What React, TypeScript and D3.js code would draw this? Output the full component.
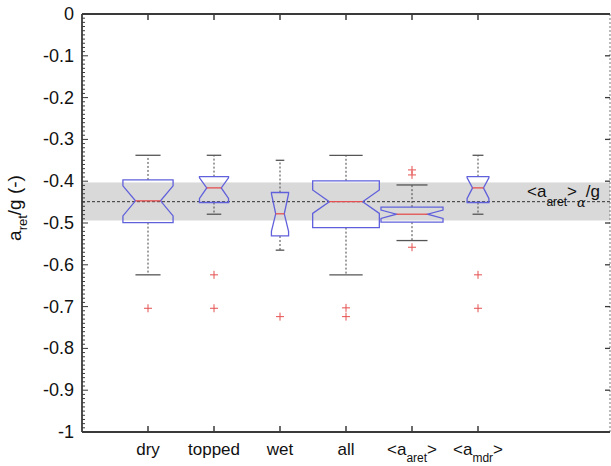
import React from "react";
import * as d3 from "d3";

const categories = ["dry", "topped", "wet", "all", "<a_aret>", "<a_mdr>"];
const whiskerHigh = [-0.338, -0.338, -0.35, -0.338, -0.409, -0.338];
const q3 = [-0.397, -0.389, -0.427, -0.399, -0.462, -0.389];
const notchHigh = [-0.411, -0.392, -0.43, -0.421, -0.469, -0.392];
const medians = [-0.447, -0.416, -0.478, -0.449, -0.479, -0.416];
const notchLow = [-0.483, -0.441, -0.52, -0.477, -0.489, -0.441];
const q1 = [-0.499, -0.451, -0.531, -0.511, -0.498, -0.451];
const whiskerLow = [-0.624, -0.479, -0.565, -0.624, -0.542, -0.479];
const outliers = [
  [-0.704],
  [-0.624, -0.704],
  [-0.724],
  [-0.703, -0.724],
  [-0.373, -0.385, -0.558],
  [-0.624, -0.704],
];
const boxWidths = [0.76, 0.44, 0.26, 1.01, 0.94, 0.33];
const bandLow = -0.494;
const bandHigh = -0.403;
const meanValue = -0.449;
const yTicks = [0, -0.1, -0.2, -0.3, -0.4, -0.5, -0.6, -0.7, -0.8, -0.9, -1];
const yTickLabels = ["0", "-0.1", "-0.2", "-0.3", "-0.4", "-0.5", "-0.6", "-0.7", "-0.8", "-0.9", "-1"];

const W = 611;
const H = 466;
const left = 82;
const right = 610;
const top = 14;
const bottom = 432;

const FONT = "'Liberation Sans', Arial, Helvetica, sans-serif";
const BLUE = "#6060dc";
const RED = "#e65050";
const AX = "#3a3a3a";

function Label({ name }: { name: string }) {
  const m = name.match(/^<a_(\w+)>$/);
  if (m) {
    return (
      <>
        <tspan>{"<a"}</tspan>
        <tspan fontSize={12} dy={7}>{m[1]}</tspan>
        <tspan dy={-7}>{">"}</tspan>
      </>
    );
  }
  return <tspan>{name}</tspan>;
}

export default function App() {
  const x = d3.scaleLinear().domain([0, 8]).range([left, right]);
  const y = d3.scaleLinear().domain([-1, 0]).range([bottom, top]);
  const unit = x(1) - x(0);
  const minor = d3.range(0, 101).map((i) => -i / 100);

  return (
    <svg
      width={W}
      height={H}
      style={{ position: "absolute", left: 0, top: 0, background: "#fff" }}
      fontFamily={FONT}
    >
      {/* band */}
      <rect
        x={left}
        y={y(bandHigh)}
        width={right - left}
        height={y(bandLow) - y(bandHigh)}
        fill="#d9d9d9"
      />
      <line
        x1={left}
        x2={right}
        y1={y(meanValue)}
        y2={y(meanValue)}
        stroke="#333"
        strokeWidth={1}
        strokeDasharray="3,2"
      />
      <text x={527} y={197} fontSize={17} fill="#111">
        <tspan>{"<a"}</tspan>
        <tspan fontSize={12} dy={9}>aret</tspan>
        <tspan dy={-9}>{">"}</tspan>
        <tspan fontSize={13} dy={10} fontStyle="italic" fontFamily="'DejaVu Serif', serif">α</tspan>
        <tspan dy={-10}>/g</tspan>
      </text>

      {/* boxes */}
      {categories.map((c, i) => {
        const cx = x(i + 1);
        const w = boxWidths[i] * unit;
        const x0 = cx - w / 2;
        const x1 = cx + w / 2;
        const xi0 = cx - w / 4;
        const xi1 = cx + w / 4;
        const pts: [number, number][] = [
          [x0, y(q3[i])],
          [x1, y(q3[i])],
          [x1, y(notchHigh[i])],
          [xi1, y(medians[i])],
          [x1, y(notchLow[i])],
          [x1, y(q1[i])],
          [x0, y(q1[i])],
          [x0, y(notchLow[i])],
          [xi0, y(medians[i])],
          [x0, y(notchHigh[i])],
        ];
        const capW = w / 4;
        return (
          <g key={c}>
            <line x1={cx} x2={cx} y1={y(q3[i])} y2={y(whiskerHigh[i])} stroke="#444" strokeWidth={1} strokeDasharray="2,2" />
            <line x1={cx} x2={cx} y1={y(q1[i])} y2={y(whiskerLow[i])} stroke="#444" strokeWidth={1} strokeDasharray="2,2" />
            <line x1={cx - capW} x2={cx + capW} y1={y(whiskerHigh[i])} y2={y(whiskerHigh[i])} stroke="#555" strokeWidth={1.3} />
            <line x1={cx - capW} x2={cx + capW} y1={y(whiskerLow[i])} y2={y(whiskerLow[i])} stroke="#555" strokeWidth={1.3} />
            <polygon points={pts.map((p) => p.join(",")).join(" ")} fill="none" stroke={BLUE} strokeWidth={1.3} />
            <line x1={xi0} x2={xi1} y1={y(medians[i])} y2={y(medians[i])} stroke={RED} strokeWidth={1.3} />
            {outliers[i].map((o, k) => (
              <g key={k} stroke={RED} strokeWidth={1}>
                <line x1={cx - 4} x2={cx + 4} y1={y(o)} y2={y(o)} />
                <line x1={cx} x2={cx} y1={y(o) - 4} y2={y(o) + 4} />
              </g>
            ))}
          </g>
        );
      })}

      {/* axes frame */}
      <line x1={left} x2={right} y1={top} y2={top} stroke={AX} strokeWidth={1.8} />
      <line x1={left} x2={right} y1={bottom} y2={bottom} stroke={AX} strokeWidth={1.8} />
      <line x1={left} x2={left} y1={top} y2={bottom} stroke={AX} strokeWidth={1.8} />
      <line x1={right} x2={right} y1={top} y2={bottom} stroke="#777" strokeWidth={1} strokeDasharray="2,2" />

      {/* left minor/major ticks */}
      {minor.map((v, i) => (
        <line
          key={"m" + i}
          x1={left}
          x2={left + (i % 10 === 0 ? 6 : 3)}
          y1={y(v)}
          y2={y(v)}
          stroke={AX}
          strokeWidth={1}
        />
      ))}
      {yTicks.map((v, i) => (
        <g key={"t" + v}>
          <line x1={right} x2={right - 5} y1={y(v)} y2={y(v)} stroke={AX} strokeWidth={1.3} />
          <text x={74} y={y(v) + 6} fontSize={18} textAnchor="end" fill="#111">
            {yTickLabels[i]}
          </text>
        </g>
      ))}

      {/* category ticks and labels */}
      {categories.map((c, i) => (
        <g key={"c" + c}>
          <line x1={x(i + 1)} x2={x(i + 1)} y1={bottom} y2={bottom - 6} stroke={AX} strokeWidth={1.5} />
          <line x1={x(i + 1)} x2={x(i + 1)} y1={top} y2={top + 6} stroke={AX} strokeWidth={1.5} />
          <text x={x(i + 1)} y={455} fontSize={17} textAnchor="middle" fill="#111">
            <Label name={c} />
          </text>
        </g>
      ))}

      {/* y label */}
      <g transform="translate(21,208) rotate(-90)">
        <text fontSize={19} textAnchor="middle" fill="#111">
          <tspan>a</tspan>
          <tspan fontSize={13} dy={6}>ret</tspan>
          <tspan dy={-6}>/g (-)</tspan>
        </text>
      </g>
    </svg>
  );
}
